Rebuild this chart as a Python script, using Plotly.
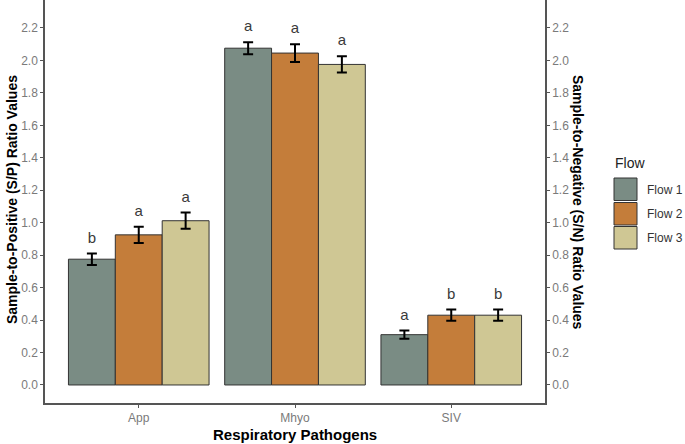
import plotly.graph_objects as go

pathogens = ["App", "Mhyo", "SIV"]
flows = ["Flow 1", "Flow 2", "Flow 3"]
flow1_mean = [0.775, 2.075, 0.31]
flow2_mean = [0.925, 2.045, 0.43]
flow3_mean = [1.012, 1.975, 0.43]
flow1_err = [0.035, 0.037, 0.025]
flow2_err = [0.05, 0.055, 0.035]
flow3_err = [0.05, 0.05, 0.035]
flow1_letters = ["b", "a", "a"]
flow2_letters = ["a", "a", "b"]
flow3_letters = ["a", "a", "b"]
colors = ["#7A8C84", "#C47D3A", "#CFC794"]
y_ticks = [0.0, 0.2, 0.4, 0.6, 0.8, 1.0, 1.2, 1.4, 1.6, 1.8, 2.0, 2.2]

means = [flow1_mean, flow2_mean, flow3_mean]
errs = [flow1_err, flow2_err, flow3_err]
letters = [flow1_letters, flow2_letters, flow3_letters]

W, H = 685, 444
L, R, T, B = 45, 140, 0, 41
FONT = "Liberation Sans, Arial, sans-serif"

fig = go.Figure()
for i, name in enumerate(flows):
    fig.add_trace(go.Bar(
        x=pathogens, y=means[i], name=name, offsetgroup=str(i),
        marker=dict(color=colors[i], line=dict(color="#333333", width=1)),
        error_y=dict(type="data", array=errs[i], color="black", thickness=2, width=5),
        showlegend=False,
    ))

# letters above error bars: numeric overlay axis aligned with the categories
for i in range(3):
    xs = [k + (i - 1) * 0.3 for k in range(3)]
    ys = [m + e + 0.09 for m, e in zip(means[i], errs[i])]
    fig.add_trace(go.Scatter(
        x=xs, y=ys, xaxis="x2", mode="text", text=letters[i],
        textposition="middle center",
        textfont=dict(family=FONT, size=15, color="#3a3a3a"),
        showlegend=False, hoverinfo="skip",
    ))

# invisible trace for the right axis
fig.add_trace(go.Scatter(x=[pathogens[0]], y=[0], yaxis="y2", mode="markers",
                         marker=dict(opacity=0), showlegend=False, hoverinfo="skip"))

yr = [-0.111, 2.372]
axis_common = dict(
    range=yr, tickvals=y_ticks, ticktext=[f"{v:.1f}" for v in y_ticks],
    showgrid=False, zeroline=False, showline=True, linecolor="#555555", linewidth=1.5,
    ticks="outside", ticklen=3, tickcolor="#555555", tickwidth=1,
    tickfont=dict(family=FONT, size=12, color="#7a7a7a"),
)
fig.update_layout(
    width=W, height=H,
    margin=dict(l=L, r=R, t=T, b=B, autoexpand=False),
    paper_bgcolor="white", plot_bgcolor="white",
    barmode="group", bargap=0.1, bargroupgap=0,
    font=dict(family=FONT),
    xaxis=dict(
        range=[-0.6, 2.6], showgrid=False, zeroline=False, showline=True,
        linecolor="#555555", linewidth=1.5, ticks="outside", ticklen=3,
        tickcolor="#555555", tickfont=dict(family=FONT, size=12, color="#7a7a7a"),
    ),
    xaxis2=dict(range=[-0.6, 2.6], overlaying="x", visible=False),
    yaxis=dict(**axis_common),
    yaxis2=dict(**axis_common, overlaying="y", side="right"),
    showlegend=False,
)

def px_x(p):
    return (p - L) / 500
def px_y(p):
    return (403 - p) / 403

# axis titles
fig.add_annotation(text="<b>Sample-to-Positive (S/P) Ratio Values</b>", xref="paper", yref="paper",
                   x=px_x(12), y=px_y(200), textangle=-90, showarrow=False,
                   font=dict(family=FONT, size=14, color="black"), xanchor="center", yanchor="middle")
fig.add_annotation(text="<b>Sample-to-Negative (S/N) Ratio Values</b>", xref="paper", yref="paper",
                   x=px_x(578), y=px_y(202), textangle=90, showarrow=False,
                   font=dict(family=FONT, size=14, color="black"), xanchor="center", yanchor="middle")
fig.add_annotation(text="<b>Respiratory Pathogens</b>", xref="paper", yref="paper",
                   x=px_x(295), y=px_y(434), showarrow=False,
                   font=dict(family=FONT, size=15, color="black"), xanchor="center", yanchor="middle")

# manual legend
fig.add_annotation(text="Flow", xref="paper", yref="paper", x=px_x(613), y=px_y(163),
                   showarrow=False, xanchor="left", yanchor="middle",
                   font=dict(family=FONT, size=14, color="#222222"))
key_tops = [178, 202.5, 226.5]
for i, name in enumerate(flows):
    top = key_tops[i]
    fig.add_shape(type="rect", xref="paper", yref="paper",
                  x0=px_x(614), x1=px_x(637), y0=px_y(top + 22.5), y1=px_y(top),
                  fillcolor=colors[i], line=dict(color="#333333", width=1))
    fig.add_annotation(text=name, xref="paper", yref="paper", x=px_x(645), y=px_y(top + 11.5),
                       showarrow=False, xanchor="left", yanchor="middle",
                       font=dict(family=FONT, size=12, color="#333333"))

fig.write_html("out.html", config={"displayModeBar": False},
               post_script="document.body.style.margin='0';document.body.style.overflow='hidden';")
